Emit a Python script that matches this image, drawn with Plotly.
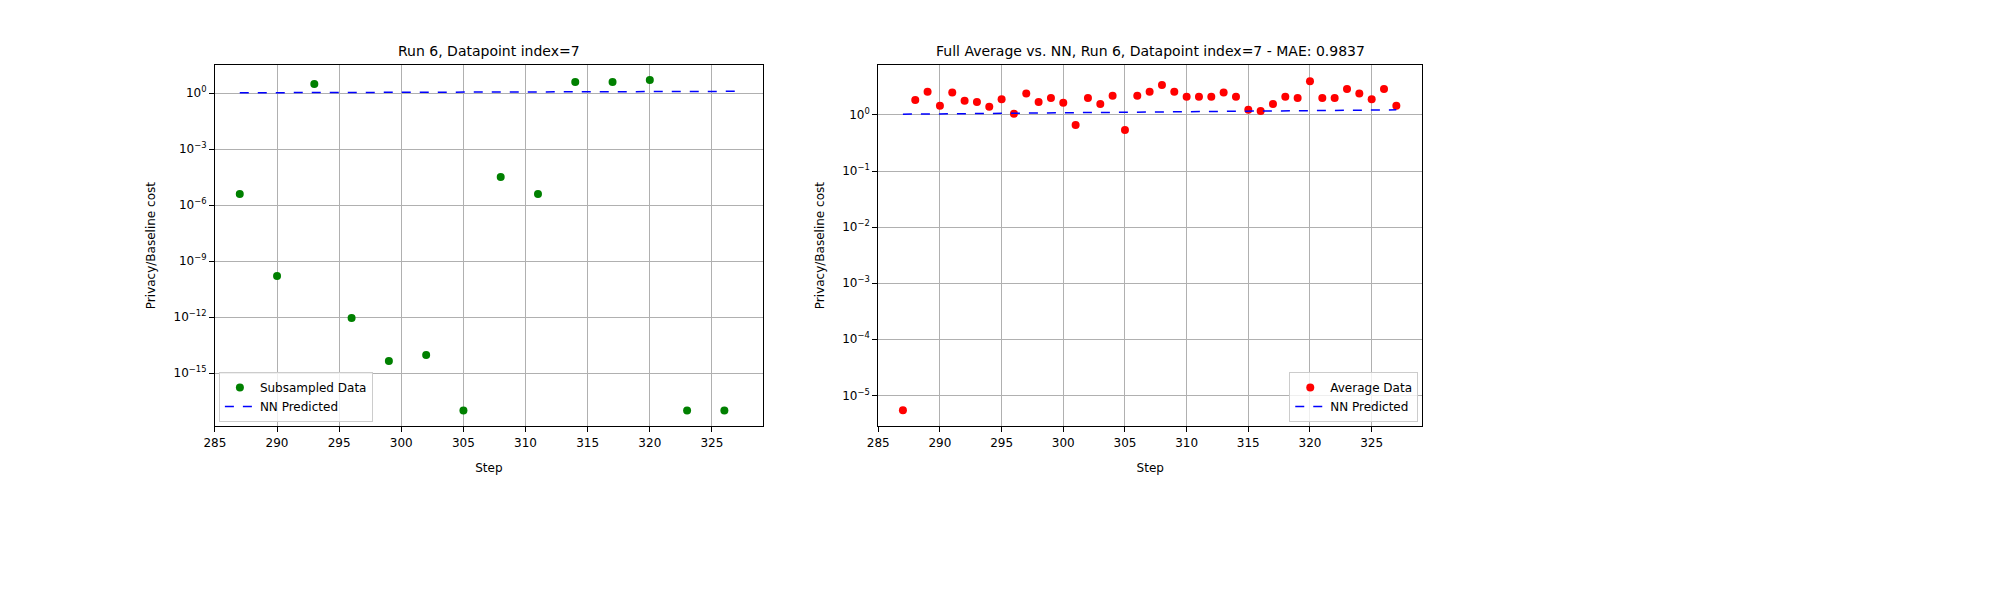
import plotly.graph_objects as go

sub_x = [287, 290, 293, 296, 299, 302, 305, 308, 311, 314, 317, 320, 323, 326]
sub_exp = [-5.41, -9.8, 0.48, -12.05, -14.35, -14.03, -17.0, -4.5, -5.41, 0.59, 0.59, 0.7, -17.0, -17.0]
sub_y = [10**e for e in sub_exp]

avg_x = list(range(287, 328))
avg_y = [5.4e-6, 1.85, 2.6, 1.45, 2.5, 1.78, 1.7, 1.4, 1.9, 1.05, 2.4, 1.7, 2.0, 1.65, 0.66,
         2.0, 1.57, 2.2, 0.54, 2.2, 2.6, 3.4, 2.6, 2.1, 2.1, 2.1, 2.5, 2.1, 1.23, 1.18,
         1.57, 2.1, 2.0, 4.0, 2.0, 2.0, 2.9, 2.4, 1.9, 2.9, 1.45]
nn_x = avg_x
nn_y = [1.03, 1.035, 1.04, 1.045, 1.05, 1.055, 1.06, 1.065, 1.07, 1.075, 1.08, 1.085, 1.09, 1.095,
        1.1, 1.105, 1.11, 1.115, 1.12, 1.125, 1.13, 1.135, 1.14, 1.145, 1.15, 1.155, 1.16, 1.165,
        1.17, 1.175, 1.18, 1.185, 1.19, 1.195, 1.2, 1.205, 1.21, 1.215, 1.22, 1.225, 1.23]

left_ticks = [0, -3, -6, -9, -12, -15]
right_ticks = [0, -1, -2, -3, -4, -5]

def tt(e):
    return "10<sup>%s</sup>" % (str(e).replace("-", "−"))

fig = go.Figure()
fig.add_trace(go.Scatter(x=sub_x, y=sub_y, mode="markers", marker=dict(color="green", size=8),
                         name="Subsampled Data", xaxis="x", yaxis="y", legend="legend"))
fig.add_trace(go.Scatter(x=nn_x, y=nn_y, mode="lines", line=dict(color="blue", dash="dash", width=1.5),
                         name="NN Predicted", xaxis="x", yaxis="y", legend="legend"))
fig.add_trace(go.Scatter(x=avg_x, y=avg_y, mode="markers", marker=dict(color="red", size=8),
                         name="Average Data", xaxis="x2", yaxis="y2", legend="legend2"))
fig.add_trace(go.Scatter(x=nn_x, y=nn_y, mode="lines", line=dict(color="blue", dash="dash", width=1.5),
                         name="NN Predicted", xaxis="x2", yaxis="y2", legend="legend2"))

ax = dict(showline=True, linecolor="black", mirror=True, showgrid=True, gridcolor="#b0b0b0",
          ticks="outside", tickcolor="black", zeroline=False, tickfont=dict(size=12, color="black"),
          title_font=dict(size=12, color="black"))
fig.update_layout(
    width=2000, height=600, autosize=False, margin=dict(l=0, r=0, t=0, b=0),
    plot_bgcolor="white", paper_bgcolor="white",
    font=dict(family="DejaVu Sans", color="black"),
    xaxis=dict(domain=[0.0985, 0.374], range=[285, 329.1], tickvals=list(range(285, 330, 5)),
               title_text="Step", anchor="y", **ax),
    yaxis=dict(domain=[0.303, 0.905], type="log", range=[-17.84, 1.5],
               tickvals=[10**e for e in left_ticks], ticktext=[tt(e) for e in left_ticks],
               title_text="Privacy/Baseline cost", anchor="x", **ax),
    xaxis2=dict(domain=[0.432, 0.7055], range=[285, 329.1], tickvals=list(range(285, 330, 5)),
                title_text="Step", anchor="y2", **ax),
    yaxis2=dict(domain=[0.303, 0.905], type="log", range=[-5.55, 0.89],
                tickvals=[10**e for e in right_ticks], ticktext=[tt(e) for e in right_ticks],
                title_text="Privacy/Baseline cost", anchor="x2", **ax),
    legend=dict(x=0.1005, y=0.31, xanchor="left", yanchor="bottom", bordercolor="#cccccc",
                borderwidth=1, font=dict(size=12), bgcolor="rgba(255,255,255,0.8)"),
    legend2=dict(x=0.7035, y=0.31, xanchor="right", yanchor="bottom", bordercolor="#cccccc",
                 borderwidth=1, font=dict(size=12), bgcolor="rgba(255,255,255,0.8)"),
    annotations=[
        dict(text="Run 6, Datapoint index=7", x=(0.0985 + 0.374) / 2, y=0.912, xref="paper", yref="paper",
             showarrow=False, xanchor="center", yanchor="bottom", font=dict(size=14)),
        dict(text="Full Average vs. NN, Run 6, Datapoint index=7 - MAE: 0.9837", x=(0.432 + 0.7055) / 2,
             y=0.912, xref="paper", yref="paper", showarrow=False, xanchor="center", yanchor="bottom",
             font=dict(size=14)),
    ],
)
fig.write_html("out.html")
